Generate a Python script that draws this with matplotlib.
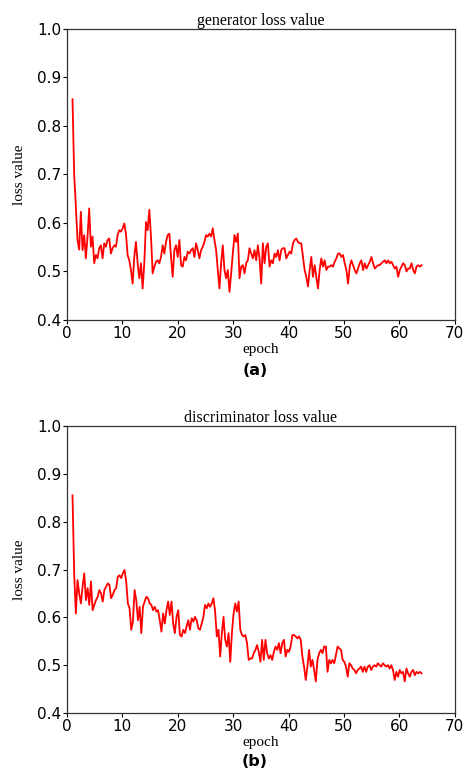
import numpy as np
import matplotlib
matplotlib.use('Agg')
from matplotlib import pyplot as plt

# ---数据：损失值---
gen_loss = [
    0.855, 0.700, 0.635, 0.565, 0.545,
    0.623, 0.544, 0.575, 0.527, 0.572, 0.630, 0.551, 0.572, 0.517, 0.534,
    0.527, 0.548, 0.554, 0.527, 0.558, 0.551, 0.565, 0.568, 0.537, 0.548,
    0.554, 0.551, 0.575, 0.585, 0.582, 0.589, 0.599, 0.578, 0.534, 0.523,
    0.503, 0.475, 0.530, 0.561, 0.517, 0.486, 0.517, 0.465, 0.517, 0.602,
    0.585, 0.627, 0.572, 0.496, 0.510, 0.520, 0.523, 0.517, 0.530, 0.554,
    0.537, 0.561, 0.575, 0.578, 0.530, 0.489, 0.544, 0.554, 0.530, 0.565,
    0.513, 0.510, 0.530, 0.523, 0.541, 0.537, 0.544, 0.548, 0.530, 0.558,
    0.544, 0.527, 0.544, 0.551, 0.561, 0.575, 0.572, 0.578, 0.572, 0.589,
    0.565, 0.544, 0.503, 0.465, 0.517, 0.554, 0.503, 0.486, 0.503, 0.458,
    0.496, 0.537, 0.575, 0.561, 0.578, 0.486, 0.510, 0.513, 0.496, 0.517,
    0.523, 0.548, 0.537, 0.527, 0.544, 0.523, 0.554, 0.527, 0.475,
    0.558, 0.517, 0.551, 0.558, 0.510, 0.523, 0.517, 0.537, 0.530, 0.544,
    0.523, 0.544, 0.548, 0.548, 0.527, 0.534, 0.541, 0.537, 0.558, 0.565,
    0.568, 0.561, 0.558, 0.558, 0.530, 0.503, 0.489, 0.469, 0.503, 0.530,
    0.489, 0.513, 0.489, 0.465, 0.503, 0.527, 0.510, 0.523, 0.503, 0.510,
    0.510, 0.513, 0.510, 0.520, 0.527, 0.537, 0.537, 0.530, 0.534, 0.517,
    0.503, 0.475, 0.510, 0.523, 0.513, 0.503, 0.496, 0.506, 0.517, 0.523,
    0.503, 0.517, 0.506, 0.513, 0.520, 0.530, 0.517, 0.506, 0.510, 0.513,
    0.513, 0.517, 0.520, 0.523, 0.517, 0.523, 0.517, 0.520, 0.513, 0.506,
    0.510, 0.489, 0.503, 0.510, 0.517, 0.513, 0.500, 0.506, 0.506, 0.517,
    0.503, 0.496, 0.510, 0.513, 0.510, 0.513,
]

disc_loss = [
    0.855, 0.692, 0.608, 0.678, 0.650, 0.629, 0.664, 0.692, 0.636, 0.661,
    0.626, 0.675, 0.615, 0.626, 0.636, 0.643, 0.657, 0.650, 0.633, 0.657,
    0.664, 0.671, 0.668, 0.640, 0.647, 0.657, 0.661, 0.685, 0.688, 0.682,
    0.692, 0.699, 0.675, 0.629, 0.619, 0.574, 0.591, 0.657, 0.636, 0.594,
    0.622, 0.567, 0.622, 0.633, 0.643, 0.640, 0.629, 0.626, 0.615, 0.622,
    0.612, 0.615, 0.594, 0.570, 0.608, 0.587, 0.615, 0.633, 0.605, 0.633,
    0.587, 0.567, 0.601, 0.615, 0.563, 0.560, 0.574, 0.567, 0.581, 0.594,
    0.574, 0.598, 0.591, 0.601, 0.594, 0.577, 0.574, 0.587, 0.601, 0.626,
    0.619, 0.629, 0.622, 0.629, 0.640, 0.612, 0.560, 0.574, 0.518, 0.567,
    0.601, 0.553, 0.539, 0.567, 0.507, 0.567, 0.608, 0.629, 0.612, 0.633,
    0.574, 0.563, 0.560, 0.563, 0.546, 0.511, 0.514, 0.514, 0.525, 0.532,
    0.542, 0.528, 0.507,
    0.553, 0.511, 0.553, 0.525, 0.514, 0.521, 0.511, 0.528, 0.539,
    0.532, 0.546, 0.525, 0.546, 0.553, 0.518, 0.532, 0.528, 0.539, 0.563,
    0.563, 0.560, 0.556, 0.560, 0.553, 0.518, 0.497, 0.469, 0.497, 0.532,
    0.497, 0.511, 0.490, 0.466, 0.511, 0.525, 0.532, 0.525, 0.539, 0.539,
    0.486, 0.511, 0.504, 0.511, 0.504, 0.521, 0.539, 0.535, 0.532, 0.511,
    0.507, 0.497, 0.476, 0.504, 0.500, 0.493, 0.490, 0.483, 0.490, 0.493,
    0.497, 0.486, 0.497, 0.486, 0.497, 0.500, 0.490, 0.497, 0.500, 0.497,
    0.504, 0.500, 0.497, 0.504, 0.500, 0.497, 0.500, 0.493, 0.500, 0.490,
    0.469, 0.486, 0.476, 0.490, 0.483, 0.486, 0.466, 0.493, 0.483, 0.476,
    0.486, 0.490, 0.479, 0.486, 0.483, 0.486, 0.483,
]

first_epoch, last_epoch = 1, 64
titles = ['generator loss value', 'discriminator loss value']
panel_tags = ['(a)', '(b)']
x_ticks = list(range(0, 71, 10))
y_ticks = [0.4, 0.5, 0.6, 0.7, 0.8, 0.9, 1.0]

serif = ['Liberation Serif', 'DejaVu Serif']

fig = plt.figure(figsize=(4.65, 7.72), dpi=100)
# 两个子图的位置 [left, bottom, width, height]
boxes = [[0.144, 0.5855, 0.834, 0.377], [0.144, 0.0764, 0.834, 0.3718]]
tag_y = [0.511, 0.004]

for k, loss in enumerate([gen_loss, disc_loss]):
    ax = fig.add_axes(boxes[k])
    epochs = np.linspace(first_epoch, last_epoch, len(loss))
    ax.plot(epochs, loss, color='#ff0000', lw=1.3)
    ax.set_xlim(0, 70)
    ax.set_ylim(0.4, 1.0)
    ax.set_xticks(x_ticks)
    ax.set_yticks(y_ticks)
    ax.tick_params(labelsize=11, length=3, width=0.8, pad=1)
    for s in ax.spines.values():
        s.set_linewidth(0.9)
        s.set_color('#333333')
    ax.set_title(titles[k], fontsize=11.5, family=serif, pad=2)
    ax.set_xlabel('epoch', fontsize=11, family=serif, labelpad=2)
    ax.set_ylabel('loss value', fontsize=11, family=serif, labelpad=8)
    fig.text(0.548, tag_y[k], panel_tags[k], ha='center', va='bottom',
             fontsize=11.5, fontweight='bold', family='DejaVu Sans')

fig.savefig('out.png', dpi=100)
